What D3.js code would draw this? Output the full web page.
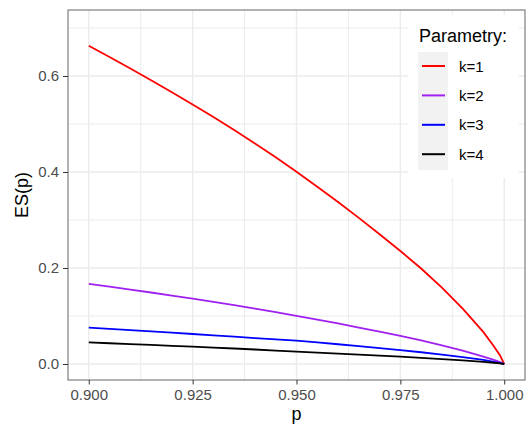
<!DOCTYPE html>
<html>
<head>
<meta charset="utf-8">
<style>
body { margin: 0; background: #fff; }
svg text { font-family: "Liberation Sans", Arial, sans-serif; }
.tick-lab { fill: #4d4d4d; font-size: 15px; }
.ax-title { fill: #000; font-size: 18px; }
.leg-title { fill: #000; font-size: 18px; }
.leg-lab { fill: #000; font-size: 15px; }
</style>
<script src="https://d3js.org/d3.v7.min.js"></script>
</head>
<body>
<svg width="527" height="430"></svg>
<script>
// values
var pGrid = [0.900, 0.905, 0.910, 0.915, 0.920, 0.925, 0.930, 0.935, 0.940, 0.945, 0.950,
             0.955, 0.960, 0.965, 0.970, 0.975, 0.980, 0.985, 0.990, 0.995, 0.9975, 0.999, 1.000];
var esK1 = [0.663, 0.6395, 0.6155, 0.591, 0.566, 0.5405, 0.5145, 0.4875, 0.4595, 0.4305, 0.4005,
            0.3695, 0.3375, 0.3045, 0.2705, 0.2355, 0.199, 0.159, 0.1155, 0.0665, 0.037, 0.018, 0];
var esK2 = [0.167, 0.161, 0.155, 0.149, 0.1425, 0.136, 0.1295, 0.1225, 0.1155, 0.108, 0.1005,
            0.0925, 0.0845, 0.076, 0.0675, 0.0585, 0.049, 0.039, 0.028, 0.0155, 0.0085, 0.004, 0];
var esK3 = [0.076, 0.0733, 0.0706, 0.0679, 0.0652, 0.0625, 0.0597, 0.0569, 0.0541, 0.0513, 0.0486,
            0.045, 0.0412, 0.0372, 0.0332, 0.029, 0.0245, 0.0195, 0.0142, 0.0085, 0.0045, 0.002, 0];
var esK4 = [0.045, 0.0433, 0.0416, 0.0398, 0.038, 0.0362, 0.0343, 0.0323, 0.0302, 0.0281, 0.026,
            0.0239, 0.0218, 0.0197, 0.0175, 0.0153, 0.0129, 0.0103, 0.0075, 0.0044, 0.0026, 0.0012, 0];
var seriesNames = ["k=1", "k=2", "k=3", "k=4"];
var seriesColors = ["#ff0000", "#a020f0", "#0000ff", "#000000"];
var xTicks = [0.900, 0.925, 0.950, 0.975, 1.000];
var xMinor = [0.9125, 0.9375, 0.9625, 0.9875];
var yTicks = [0.0, 0.2, 0.4, 0.6];
var yMinor = [0.1, 0.3, 0.5, 0.7];

var allSeries = [esK1, esK2, esK3, esK4];

var svg = d3.select("svg");
var pLeft = 68, pRight = 525, pTop = 10, pBottom = 380;

var x = d3.scaleLinear().domain([0.895, 1.005]).range([pLeft, pRight]);
var y = d3.scaleLinear().domain([-0.0333, 0.7375]).range([pBottom, pTop]);

var grid = svg.append("g");
grid.selectAll(".gxm").data(xMinor).enter().append("line")
    .attr("x1", d => x(d)).attr("x2", d => x(d)).attr("y1", pTop).attr("y2", pBottom)
    .attr("stroke", "#ebebeb").attr("stroke-width", 1);
grid.selectAll(".gym").data(yMinor).enter().append("line")
    .attr("y1", d => y(d)).attr("y2", d => y(d)).attr("x1", pLeft).attr("x2", pRight)
    .attr("stroke", "#ebebeb").attr("stroke-width", 1);
grid.selectAll(".gx").data(xTicks).enter().append("line")
    .attr("x1", d => x(d)).attr("x2", d => x(d)).attr("y1", pTop).attr("y2", pBottom)
    .attr("stroke", "#ebebeb").attr("stroke-width", 1.4);
grid.selectAll(".gy").data(yTicks).enter().append("line")
    .attr("y1", d => y(d)).attr("y2", d => y(d)).attr("x1", pLeft).attr("x2", pRight)
    .attr("stroke", "#ebebeb").attr("stroke-width", 1.4);

var line = d3.line()
    .x((d, i) => x(pGrid[i]))
    .y(d => y(d));

svg.append("g").selectAll("path").data(allSeries).enter().append("path")
    .attr("d", line)
    .attr("fill", "none")
    .attr("stroke", (d, i) => seriesColors[i])
    .attr("stroke-width", 1.8);

// legend (inside panel)
var leg = svg.append("g");
leg.append("rect").attr("x", 408).attr("y", 15).attr("width", 111).attr("height", 163).attr("fill", "#fff");
leg.append("text").attr("class", "leg-title").attr("x", 419).attr("y", 42).text("Parametry:");
leg.append("rect").attr("x", 418).attr("y", 52).attr("width", 30).attr("height", 118).attr("fill", "#f2f2f2");
var items = leg.selectAll(".item").data(seriesNames).enter().append("g")
    .attr("transform", (d, i) => "translate(0," + (66 + i * 29.4) + ")");
items.append("line").attr("x1", 422).attr("x2", 445).attr("y1", 0).attr("y2", 0)
    .attr("stroke", (d, i) => seriesColors[i]).attr("stroke-width", 2);
items.append("text").attr("class", "leg-lab").attr("x", 459).attr("y", 5.5).text(d => d);

// panel border
svg.append("rect").attr("x", pLeft).attr("y", pTop).attr("width", pRight - pLeft).attr("height", pBottom - pTop)
    .attr("fill", "none").attr("stroke", "#7f7f7f").attr("stroke-width", 1.2);

// axes
var xAxis = d3.axisBottom(x).tickValues(xTicks).tickFormat(d3.format(".3f")).tickSize(4.5).tickPadding(5);
var gx = svg.append("g").attr("transform", "translate(0," + pBottom + ")").call(xAxis);
gx.select(".domain").remove();
gx.selectAll("line").attr("stroke", "#333");
gx.selectAll("text").attr("class", "tick-lab").attr("font-family", null).attr("font-size", null).attr("fill", null);

var yAxis = d3.axisLeft(y).tickValues(yTicks).tickFormat(d3.format(".1f")).tickSize(5).tickPadding(4);
var gy = svg.append("g").attr("transform", "translate(" + pLeft + ",0)").call(yAxis);
gy.select(".domain").remove();
gy.selectAll("line").attr("stroke", "#333");
gy.selectAll("text").attr("class", "tick-lab").attr("font-family", null).attr("font-size", null).attr("fill", null);

svg.append("text").attr("class", "ax-title").attr("x", (pLeft + pRight) / 2).attr("y", 420)
    .attr("text-anchor", "middle").text("p");
svg.append("text").attr("class", "ax-title")
    .attr("transform", "translate(28," + ((pTop + pBottom) / 2) + ") rotate(-90)")
    .attr("text-anchor", "middle").text("ES(p)");
</script>
</body>
</html>
